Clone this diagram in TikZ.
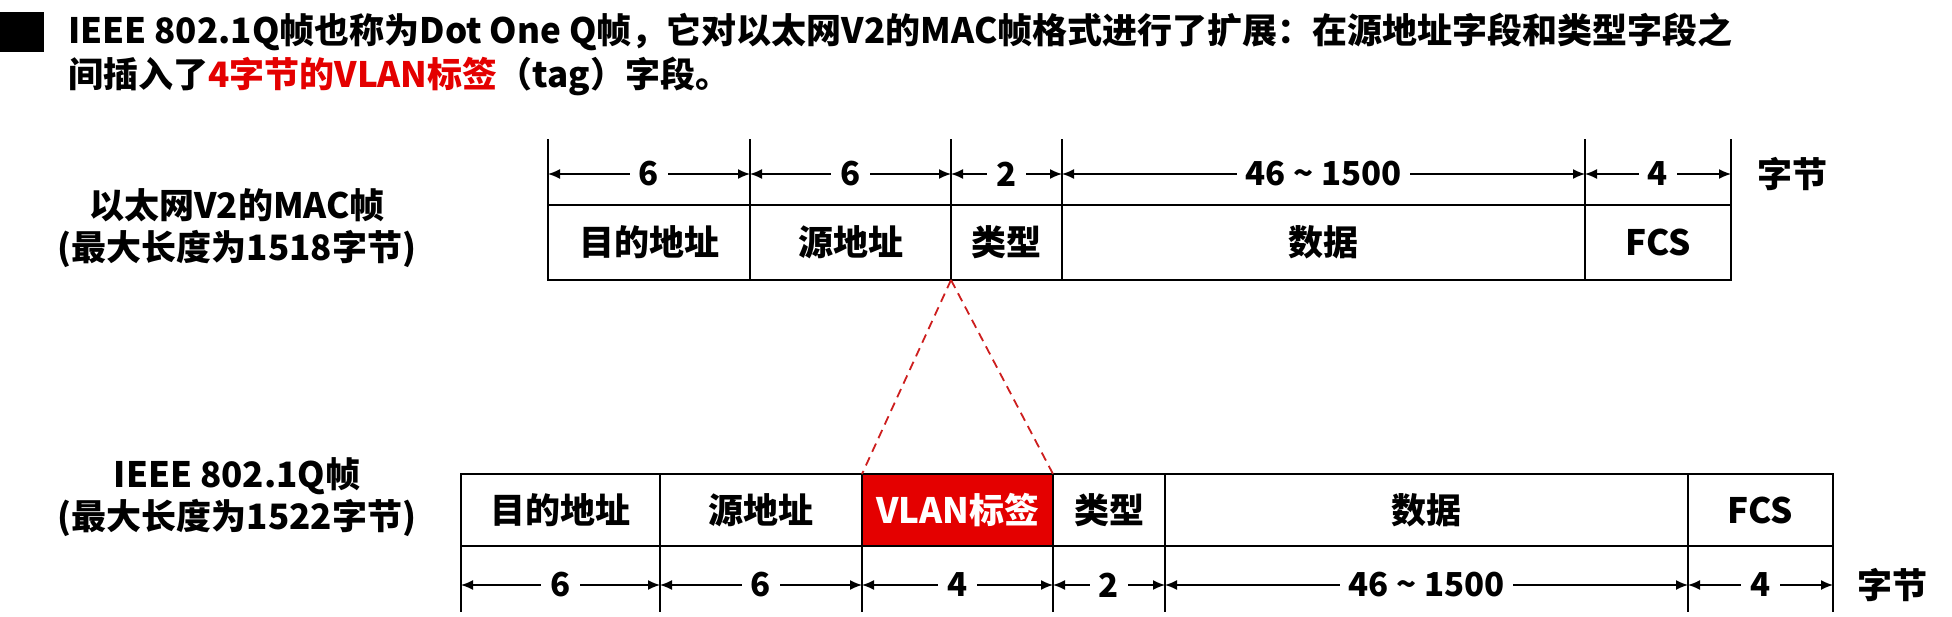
\documentclass[tikz,border=0pt]{standalone}
\usepackage{fontspec}
\setmainfont{Noto Sans CJK SC}
\usepackage{xcolor}
\usepackage{tikz}
\usetikzlibrary{arrows.meta}
\definecolor{tagred}{RGB}{228,0,0}
\definecolor{dashred}{RGB}{205,30,30}
\newcommand\fieldfont{\bfseries\fontsize{35}{42}\selectfont}
\newcommand\sizefont{\bfseries\fontsize{33}{36}\selectfont}

\tikzset{
  field/.style={draw, line width=2.6pt, inner sep=0pt, outer sep=0pt, minimum height=75, font=\fieldfont},
  sizelabel/.style={fill=white, inner xsep=9pt, inner ysep=0pt, font=\sizefont},
  dim/.style={{Latex[length=12pt,width=10pt]}-{Latex[length=12pt,width=10pt]}, line width=1.5pt},
  ext/.style={line width=1.8pt},
}

\begin{document}
\begin{tikzpicture}[x=1pt,y=-1pt]
        \useasboundingbox (0,0) rectangle (1952,616);
        % title
        \fill (0,12) rectangle (44,52);
        \node[anchor=west, inner sep=0pt, font=\fieldfont] (title1) at (68,32) {IEEE 802.1Q帧也称为Dot One Q帧，它对以太网V2的MAC帧格式进行了扩展：在源地址字段和类型字段之};
        \node[anchor=west, inner sep=0pt, font=\fieldfont] (title2) at (68,76) {间插入了{\color{tagred}4字节的VLAN标签}（tag）字段。};

        % Ethernet V2 frame
        \node[align=center, font=\fieldfont] (v2name) at (237,228) {以太网V2的MAC帧\\(最大长度为1518字节)};
        \node[field, minimum width=202] (ta) at (649,242.5) {目的地址};
        \node[field, minimum width=201] (tb) at (850.5,242.5) {源地址};
        \node[field, minimum width=111] (tc) at (1006.5,242.5) {类型};
        \node[field, minimum width=523] (td) at (1323.5,242.5) {数据};
        \node[field, minimum width=146] (te) at (1658,242.5) {FCS};
        \foreach \n in {ta,tb,tc,td,te}
          \draw[ext] (\n.north west) -- ++(0,-66);
        \draw[ext] (te.north east) -- ++(0,-66);
        \coordinate (toprow) at (0,174);
        \draw[dim] (ta.north west |- toprow) -- node[sizelabel]{6} (ta.north east |- toprow);
        \draw[dim] (tb.north west |- toprow) -- node[sizelabel]{6} (tb.north east |- toprow);
        \draw[dim] (tc.north west |- toprow) -- node[sizelabel]{2} (tc.north east |- toprow);
        \draw[dim] (td.north west |- toprow) -- node[sizelabel]{46 \textasciitilde{} 1500} (td.north east |- toprow);
        \draw[dim] (te.north west |- toprow) -- node[sizelabel]{4} (te.north east |- toprow);
        \node[font=\fieldfont] (topunit) at (1792,174) {字节};

        % 802.1Q frame
        \node[align=center, font=\fieldfont] (qname) at (237,497) {IEEE 802.1Q帧\\(最大长度为1522字节)};
        \node[field, minimum width=199, minimum height=72] (ba) at (560.5,510) {目的地址};
        \node[field, minimum width=202, minimum height=72] (bb) at (761,510) {源地址};
        \node[field, minimum width=191, minimum height=72, fill=tagred, text=white] (bc) at (957.5,510) {VLAN标签};
        \node[field, minimum width=112, minimum height=72] (bd) at (1109,510) {类型};
        \node[field, minimum width=523, minimum height=72] (be) at (1426.5,510) {数据};
        \node[field, minimum width=145, minimum height=72] (bf) at (1760.5,510) {FCS};
        \foreach \n in {ba,bb,bc,bd,be,bf}
          \draw[ext] (\n.south west) -- ++(0,66);
        \draw[ext] (bf.south east) -- ++(0,66);
        \coordinate (botrow) at (0,585);
        \draw[dim] (ba.south west |- botrow) -- node[sizelabel]{6} (ba.south east |- botrow);
        \draw[dim] (bb.south west |- botrow) -- node[sizelabel]{6} (bb.south east |- botrow);
        \draw[dim] (bc.south west |- botrow) -- node[sizelabel]{4} (bc.south east |- botrow);
        \draw[dim] (bd.south west |- botrow) -- node[sizelabel]{2} (bd.south east |- botrow);
        \draw[dim] (be.south west |- botrow) -- node[sizelabel]{46 \textasciitilde{} 1500} (be.south east |- botrow);
        \draw[dim] (bf.south west |- botrow) -- node[sizelabel]{4} (bf.south east |- botrow);
        \node[font=\fieldfont] (botunit) at (1892,585) {字节};

        % where the tag goes in
        \draw[dashred, line width=1.8pt, dash pattern=on 9pt off 6pt] (tc.south west) -- (bc.north west);
        \draw[dashred, line width=1.8pt, dash pattern=on 9pt off 6pt] (tc.south west) -- (bc.north east);
\end{tikzpicture}
\end{document}
